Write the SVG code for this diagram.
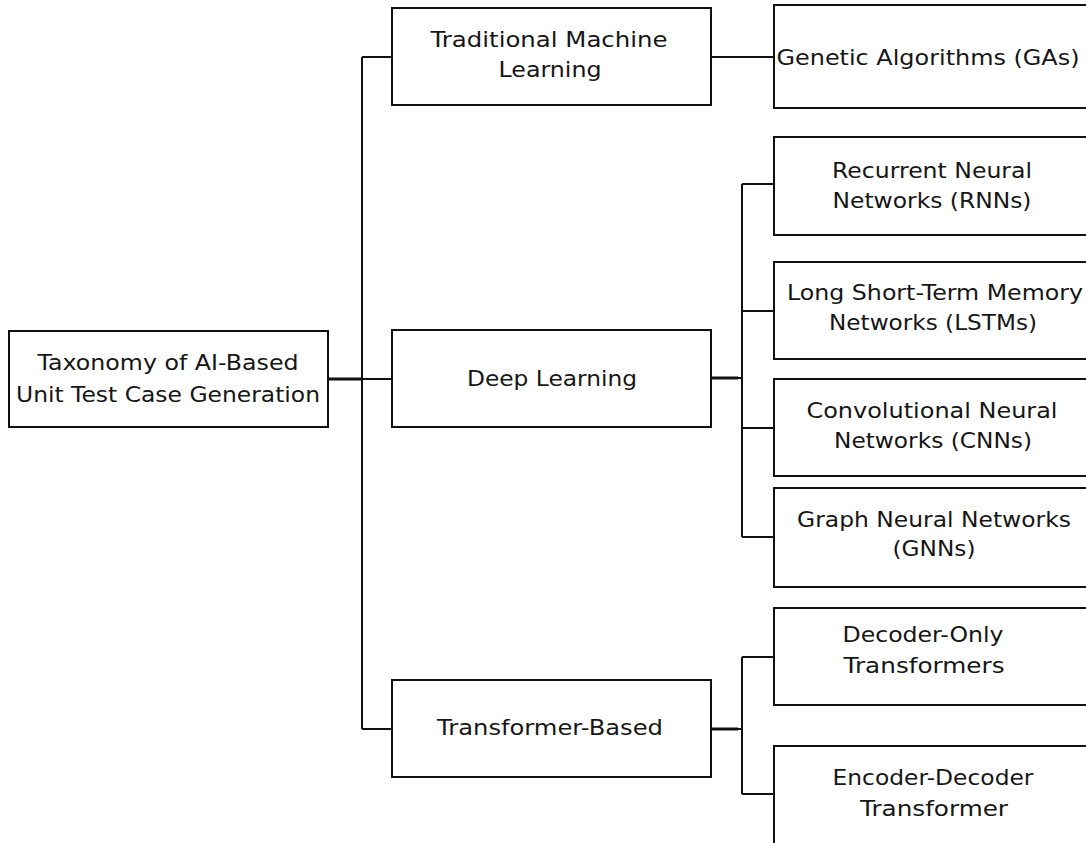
<svg xmlns="http://www.w3.org/2000/svg" width="1086" height="843" viewBox="0 0 1086 843">
  <style>
    .box { fill: #ffffff; stroke: #111111; stroke-width: 2; }
    .wire { fill: none; stroke: #111111; stroke-width: 2; }
    .thick { stroke-width: 3; }
    text { font-family: "DejaVu Sans", "Noto Sans", sans-serif; font-size: 21px; fill: #161616; text-anchor: middle; }
  </style>
  <rect width="1086" height="843" fill="#ffffff"/>

  <!-- connectors -->
  <g id="connectors">
    <path class="wire thick" d="M328 379 H362"/>
    <path class="wire" d="M362 57 V729"/>
    <path class="wire" d="M362 57 H392 M362 379 H392 M362 729 H392"/>
    <path class="wire" d="M711 57 H774"/>
    <path class="wire thick" d="M711 378 H738"/>
    <path class="wire" d="M736 378 H742 M742 184 V537"/>
    <path class="wire" d="M742 184 H774 M742 311 H774 M742 428 H774 M742 537 H774"/>
    <path class="wire thick" d="M711 729 H738"/>
    <path class="wire" d="M736 729 H742 M742 657 V794"/>
    <path class="wire" d="M742 657 H774 M742 794 H774"/>
  </g>

  <g id="root">
    <rect class="box" x="9" y="331" width="319" height="96"/>
    <text x="168" y="370" textLength="261" lengthAdjust="spacingAndGlyphs">Taxonomy of AI-Based</text>
    <text x="168" y="402" textLength="304" lengthAdjust="spacingAndGlyphs">Unit Test Case Generation</text>
  </g>

  <g id="traditional-ml">
    <rect class="box" x="392" y="8" width="319" height="97"/>
    <text x="549" y="47" textLength="237" lengthAdjust="spacingAndGlyphs">Traditional Machine</text>
    <text x="550" y="77" textLength="103" lengthAdjust="spacingAndGlyphs">Learning</text>
  </g>

  <g id="deep-learning">
    <rect class="box" x="392" y="330" width="319" height="97"/>
    <text x="552" y="386" textLength="170" lengthAdjust="spacingAndGlyphs">Deep Learning</text>
  </g>

  <g id="transformer-based">
    <rect class="box" x="392" y="680" width="319" height="97"/>
    <text x="550" y="735" textLength="226" lengthAdjust="spacingAndGlyphs">Transformer-Based</text>
  </g>

  <g id="genetic-algorithms">
    <rect class="box" x="774" y="5" width="320" height="103"/>
    <text x="928" y="65" textLength="303" lengthAdjust="spacingAndGlyphs">Genetic Algorithms (GAs)</text>
  </g>

  <g id="rnn">
    <rect class="box" x="774" y="137" width="320" height="98"/>
    <text x="932" y="178" textLength="200" lengthAdjust="spacingAndGlyphs">Recurrent Neural</text>
    <text x="932" y="208" textLength="199" lengthAdjust="spacingAndGlyphs">Networks (RNNs)</text>
  </g>

  <g id="lstm">
    <rect class="box" x="774" y="262" width="320" height="97"/>
    <text x="935" y="300" textLength="296" lengthAdjust="spacingAndGlyphs">Long Short-Term Memory</text>
    <text x="933" y="330" textLength="208" lengthAdjust="spacingAndGlyphs">Networks (LSTMs)</text>
  </g>

  <g id="cnn">
    <rect class="box" x="774" y="379" width="320" height="97"/>
    <text x="932" y="418" textLength="251" lengthAdjust="spacingAndGlyphs">Convolutional Neural</text>
    <text x="933" y="448" textLength="198" lengthAdjust="spacingAndGlyphs">Networks (CNNs)</text>
  </g>

  <g id="gnn">
    <rect class="box" x="774" y="488" width="320" height="99"/>
    <text x="934" y="527" textLength="274" lengthAdjust="spacingAndGlyphs">Graph Neural Networks</text>
    <text x="934" y="556" textLength="83" lengthAdjust="spacingAndGlyphs">(GNNs)</text>
  </g>

  <g id="decoder-only">
    <rect class="box" x="774" y="608" width="320" height="97"/>
    <text x="923" y="642" textLength="161" lengthAdjust="spacingAndGlyphs">Decoder-Only</text>
    <text x="924" y="673" textLength="161" lengthAdjust="spacingAndGlyphs">Transformers</text>
  </g>

  <g id="encoder-decoder">
    <rect class="box" x="774" y="746" width="320" height="110"/>
    <text x="933" y="785" textLength="201" lengthAdjust="spacingAndGlyphs">Encoder-Decoder</text>
    <text x="934" y="816" textLength="148" lengthAdjust="spacingAndGlyphs">Transformer</text>
  </g>
</svg>
